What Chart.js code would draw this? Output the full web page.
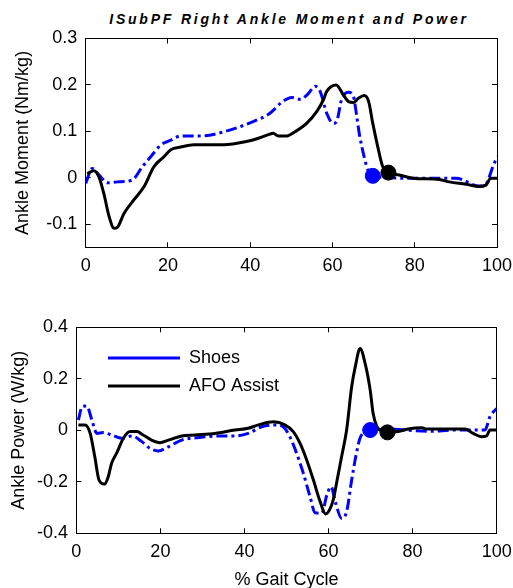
<!DOCTYPE html>
<html>
<head>
<meta charset="utf-8">
<script src="https://cdn.jsdelivr.net/npm/chart.js@4.4.0/dist/chart.umd.min.js"></script>
<style>
    body { margin: 0; background: #fff; }
    #wrap { position: relative; width: 513px; height: 588px; overflow: hidden; }
    #title {
        position: absolute; left: 89px; top: 11px; width: 400px;
        text-align: center; line-height: 16px;
        font: italic bold 14px "Liberation Sans", Arial, sans-serif;
        letter-spacing: 2.8px; color: #000;
    }
    canvas { position: absolute; left: 0; }
    #moment-chart { top: 28px; }
    #power-chart { top: 300px; }
</style>
</head>
<body>
<div id="wrap">
    <div id="title">ISubPF Right Ankle Moment and Power</div>
    <canvas id="moment-chart" width="513" height="272"></canvas>
    <canvas id="power-chart" width="513" height="288"></canvas>
</div>
<script>
// series labels
const seriesLabels = ['Shoes', 'AFO Assist'];

// ankle moment (Nm/kg) vs % gait cycle
const momentShoesPct = [0, 1.6, 3.2, 5.3, 7.7, 11.3, 13.8, 15.8, 18.2, 20.7, 23.1, 28, 33.6, 40.7, 44.8, 47.6, 50.1, 52.1, 53.9, 55.8, 57, 58.6, 60.2, 61, 62.2, 63.9, 65.1, 65.9, 66.5, 67.7, 68.6, 69.8, 77.9, 90, 95.7, 97.3, 99, 100];
const momentShoes = [-0.012, 0.02, 0.006, -0.011, -0.009, -0.005, 0.024, 0.045, 0.07, 0.081, 0.09, 0.09, 0.099, 0.121, 0.139, 0.162, 0.173, 0.169, 0.179, 0.197, 0.186, 0.139, 0.117, 0.121, 0.168, 0.184, 0.175, 0.132, 0.096, 0.045, 0.017, 0.004, -0.001, -0.001, -0.018, -0.014, 0.024, 0.045];
const momentAfoPct = [0.4, 2, 3.2, 4.4, 5.7, 6.9, 7.7, 9.3, 11.7, 14.2, 16.6, 19, 20.7, 23.1, 26.3, 33.6, 39.1, 42, 44.8, 45.6, 46.8, 48.9, 50.9, 53.7, 56.2, 57.8, 58.6, 60.9, 62.6, 63.9, 65.1, 66.3, 67.7, 68.8, 69.8, 71, 72.2, 73.6, 76.2, 79.5, 86, 88.4, 92.5, 95.7, 97.3, 98.5, 100];
const momentAfo = [0.009, 0.015, 0.002, -0.034, -0.084, -0.109, -0.107, -0.077, -0.048, -0.019, 0.024, 0.045, 0.06, 0.066, 0.071, 0.071, 0.078, 0.085, 0.094, 0.096, 0.09, 0.09, 0.099, 0.117, 0.143, 0.168, 0.186, 0.2, 0.179, 0.164, 0.162, 0.171, 0.177, 0.164, 0.117, 0.067, 0.024, 0.011, 0.006, -0.001, -0.004, -0.009, -0.014, -0.019, -0.016, -0.001, -0.001];

// ankle power (W/kg) vs % gait cycle
const powerShoesPct = [0.5, 1.4, 2.5, 3.7, 4.9, 6.4, 8.4, 10.8, 13.2, 15.6, 17.5, 19.5, 21.9, 25.1, 29.8, 33.8, 37.7, 40.9, 44.1, 47.3, 49.2, 50.8, 52.4, 54, 55.6, 56.8, 58.4, 59.6, 60.6, 61.7, 63.1, 64.3, 65.5, 66.5, 67.5, 68.7, 69.9, 74.2, 84, 90, 97.2, 98.4, 100];
const powerShoes = [0.04, 0.092, 0.094, 0.04, -0.012, -0.009, -0.018, -0.031, -0.022, -0.044, -0.07, -0.08, -0.064, -0.038, -0.027, -0.022, -0.022, -0.012, 0.014, 0.021, 0.014, -0.025, -0.089, -0.167, -0.258, -0.32, -0.322, -0.251, -0.219, -0.283, -0.342, -0.316, -0.193, -0.1, -0.03, -0.005, 0.001, 0.004, -0.004, 0.001, 0.001, 0.053, 0.085];
const powerAfoPct = [0.5, 2.1, 3.3, 4.4, 5.4, 6.7, 7.6, 8.4, 9.6, 11.2, 12.8, 14.4, 15.9, 17.9, 19.9, 21.9, 25.1, 28.2, 33, 37.7, 40.9, 43.3, 46.9, 49.6, 51.6, 53.2, 54.8, 56.4, 58, 59.3, 60.2, 61.1, 62.2, 63.1, 64.3, 65.5, 66.4, 67.5, 68.7, 69.9, 70.6, 71.5, 72.6, 74, 76.6, 78.9, 82.2, 83.3, 92.5, 94.4, 96.4, 97.6, 98.4, 100];
const powerAfo = [0.021, 0.021, -0.012, -0.103, -0.193, -0.209, -0.18, -0.128, -0.089, -0.031, -0.005, -0.005, -0.018, -0.038, -0.048, -0.038, -0.022, -0.018, -0.012, 0.001, 0.008, 0.021, 0.033, 0.021, -0.005, -0.05, -0.115, -0.193, -0.277, -0.325, -0.31, -0.271, -0.18, -0.103, 0.001, 0.169, 0.25, 0.318, 0.26, 0.157, 0.066, 0.014, -0.002, -0.009, -0.005, 0.005, 0.01, 0.005, 0.005, -0.012, -0.025, -0.022, 0.001, 0.001];

// toe-off markers [shoes, afo]
const momentToeOffPct = [69.8, 73.6];
const momentToeOff = [0.004, 0.011];
const powerToeOffPct = [69.9, 74.0];
const powerToeOff = [0.001, -0.008];

// axis ranges / ticks
const xRange = [0, 100];
const xStep = 20;
const momentRange = [-0.15, 0.3];
const momentStep = 0.1;
const powerRange = [-0.4, 0.4];
const powerStep = 0.2;

const FONT = '"Liberation Sans", Arial, Helvetica, sans-serif';
Chart.defaults.font.family = FONT;
Chart.defaults.color = '#000';

const toPoints = (xs, ys) => xs.map((x, i) => ({ x: x, y: ys[i] }));

function lineSet(label, xs, ys, color, dash, order) {
    return {
        label: label,
        data: toPoints(xs, ys),
        borderColor: color,
        backgroundColor: color,
        borderWidth: 3,
        borderDash: dash,
        pointRadius: 0,
        cubicInterpolationMode: 'monotone',
        fill: false,
        order: order
    };
}

function markerSet(x, y, color) {
    return {
        label: '',
        data: [{ x: x, y: y }],
        showLine: false,
        pointRadius: 7.5,
        pointHoverRadius: 7.5,
        pointBackgroundColor: color,
        pointBorderColor: color,
        order: 0
    };
}

// fixed axis size, no auto padding from tick labels
function fixSize(prop, size) {
    return s => {
        s[prop] = size;
        s.paddingLeft = 0; s.paddingRight = 0; s.paddingTop = 0; s.paddingBottom = 0;
    };
}

// matlab-like box: ticks inside on all four sides
function makeScales(o) {
    const grid = { drawOnChartArea: false, tickLength: -5, color: '#000', lineWidth: 1 };
    const border = { color: '#000', width: 1 };
    return {
        x: {
            type: 'linear', position: 'bottom', min: xRange[0], max: xRange[1],
            ticks: { stepSize: xStep, padding: o.xPad, maxRotation: 0, font: { size: 18 }, color: '#000' },
            grid: grid, border: border,
            title: { display: !!o.xTitle, text: o.xTitle || '', font: { size: 18 }, color: '#000', padding: { top: 0, bottom: -3 } },
            afterFit: fixSize('height', o.xHeight)
        },
        x2: {
            type: 'linear', position: 'top', min: xRange[0], max: xRange[1],
            ticks: { stepSize: xStep, display: false },
            grid: grid, border: border,
            afterFit: fixSize('height', 0)
        },
        y: {
            type: 'linear', position: 'left', min: o.range[0], max: o.range[1],
            ticks: { stepSize: o.step, includeBounds: false, padding: 13.4, font: { size: 18 }, color: '#000' },
            grid: grid, border: border,
            title: { display: true, text: o.yTitle, font: { size: 18 }, color: '#000', padding: { top: o.yTitlePad, bottom: 0 } },
            afterFit: fixSize('width', o.yWidth)
        },
        y2: {
            type: 'linear', position: 'right', min: o.range[0], max: o.range[1],
            ticks: { stepSize: o.step, includeBounds: false, display: false },
            grid: grid, border: border,
            afterFit: fixSize('width', 0)
        }
    };
}

// legend inside the axes, top-left
const legendPlace = {
    id: 'legendPlace',
    afterLayout(chart) {
        const lg = chart.legend;
        if (!lg || !chart.options.plugins.legend.display) return;
        const w = lg.right - lg.left;
        lg.left = 98;
        lg.right = lg.left + w;
        lg.top = 39;
    }
};

const blueDash = [11, 4, 3, 4];

// moment chart
new Chart(document.getElementById('moment-chart'), {
    type: 'line',
    data: {
        datasets: [
            lineSet(seriesLabels[0], momentShoesPct, momentShoes, '#0000ff', blueDash, 3),
            lineSet(seriesLabels[1], momentAfoPct, momentAfo, '#000000', [], 2),
            markerSet(momentToeOffPct[0], momentToeOff[0], '#0000ff'),
            markerSet(momentToeOffPct[1], momentToeOff[1], '#000000')
        ]
    },
    options: {
        responsive: false,
        animation: false,
        devicePixelRatio: 1,
        layout: { autoPadding: false, padding: { top: 10.5, right: 16, left: 0, bottom: 0 } },
        plugins: { legend: { display: false }, tooltip: { enabled: false } },
        scales: makeScales({
            range: momentRange, step: momentStep, yTitle: 'Ankle Moment (Nm/kg)',
            yWidth: 85.7, xHeight: 52.7, xPad: 12.6, yTitlePad: 12.5
        })
    }
});

// power chart
new Chart(document.getElementById('power-chart'), {
    type: 'line',
    data: {
        datasets: [
            lineSet(seriesLabels[0], powerShoesPct, powerShoes, '#0000ff', blueDash, 3),
            lineSet(seriesLabels[1], powerAfoPct, powerAfo, '#000000', [], 2),
            markerSet(powerToeOffPct[0], powerToeOff[0], '#0000ff'),
            markerSet(powerToeOffPct[1], powerToeOff[1], '#000000')
        ]
    },
    options: {
        responsive: false,
        animation: false,
        devicePixelRatio: 1,
        layout: { autoPadding: false, padding: { top: 27.3, right: 16.3, left: 0, bottom: 0 } },
        plugins: {
            tooltip: { enabled: false },
            legend: {
                display: true,
                position: 'chartArea',
                align: 'start',
                labels: {
                    usePointStyle: true,
                    pointStyle: 'line',
                    pointStyleWidth: 72,
                    padding: 10,
                    color: '#000',
                    font: { size: 18, lineHeight: 1.2 },
                    filter: item => item.text !== '',
                    sort: (a, b) => a.datasetIndex - b.datasetIndex
                }
            }
        },
        scales: makeScales({
            range: powerRange, step: powerStep, yTitle: 'Ankle Power (W/kg)',
            yWidth: 76.3, xHeight: 54.7, xPad: 13.2, yTitlePad: 8.5, xTitle: '% Gait Cycle'
        })
    },
    plugins: [legendPlace]
});
</script>
</body>
</html>
